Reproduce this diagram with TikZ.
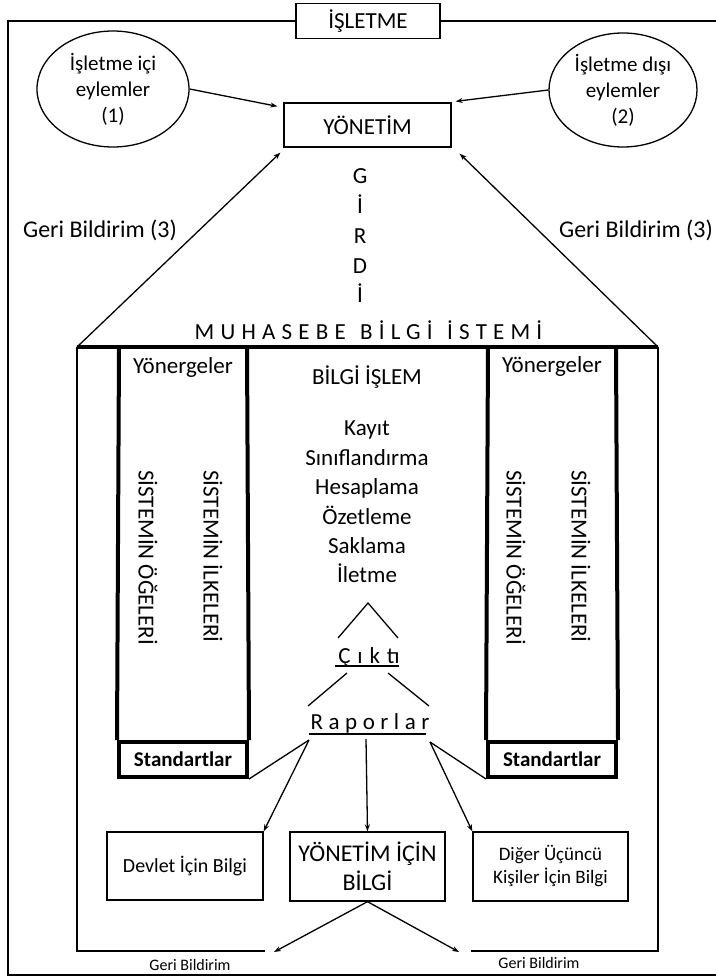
\documentclass[tikz,border=0pt]{standalone}
\usepackage{fontspec}
\setmainfont{Carlito}
\usetikzlibrary{arrows.meta,shapes.geometric}
\begin{document}
\begin{tikzpicture}[x=1pt,y=-1pt,
  thinln/.style={line width=1.3pt},
  thickln/.style={line width=4pt},
  arr/.style={line width=1.3pt,-{Stealth[length=7pt,width=5pt]}},
  fbig/.style={font=\fontsize{23}{28}\selectfont},
  tx/.style={inner sep=0pt,align=center,fbig},
  box/.style={draw,line width=1.3pt,inner sep=0pt,align=center}]
\useasboundingbox (0,0) rectangle (715,979);

% outer frame
\node[box,tx,minimum width=144pt,minimum height=35pt] (isl) at (368,21) {İŞLETME};
\draw[thinln] (isl.west) -- (8,21) -- (8,975) -- (716,975);
\draw[thinln] (isl.east) -- (716,21);

% ellipses
\node[draw,thinln,ellipse,minimum width=152pt,minimum height=116pt,inner sep=0pt,align=center,
  font=\fontsize{21}{26}\selectfont] (e1) at (113,89) {İşletme içi\\eylemler\\(1)};
\node[draw,thinln,ellipse,minimum width=148pt,minimum height=114pt,inner sep=0pt,align=center,
  font=\fontsize{21}{26}\selectfont] (e2) at (623,90) {İşletme dışı\\eylemler\\(2)};

% YONETIM
\node[box,tx,minimum width=167pt,minimum height=44pt] (yon) at (367.5,125) {YÖNETİM};
\draw[arr] (e1.east) -- ([xshift=-6pt,yshift=-4pt]yon.north west);
\draw[arr] (e2.west) -- ([xshift=4pt,yshift=1pt]yon.north east);

% corners of system
\coordinate (cl) at (77,347);
\coordinate (cr) at (658,347);
\draw[arr] (cl) -- ([xshift=-3pt,yshift=-5pt]yon.south west);
\draw[arr] (cr) -- ([xshift=8pt,yshift=-6pt]yon.south east);

\node[tx,font=\fontsize{24}{28}\selectfont] (gb1) at (100,230) {Geri Bildirim (3)};
\node[tx,font=\fontsize{24}{28}\selectfont] (gb2) at (636,230) {Geri Bildirim (3)};

\node[tx,font=\fontsize{23}{29.75}\selectfont] (girdi) at (360,236) {G\\İ\\R\\D\\İ};

\node[tx] (mbs) at (368.5,330) {\addfontfeatures{LetterSpace=27}MUHASEBE\hspace{3pt} BİLGİ\hspace{3pt} İSTEMİ};

% system frame
\draw[thickln] (cl) -- (cr);
\draw[thinln] (cl) -- (77,951) -- (265,951);
\draw[thinln] (cr) -- (658,951) -- (471,951);

% pillars
\node[draw,thickln,minimum width=128pt,minimum height=35pt,inner sep=0pt,
  font=\fontsize{21}{25}\selectfont\bfseries] (std1) at (183,759.5) {Standartlar};
\node[draw,thickln,minimum width=128pt,minimum height=35pt,inner sep=0pt,
  font=\fontsize{21}{25}\selectfont\bfseries] (std2) at (552,759.5) {Standartlar};
\draw[thickln] (std1.north west) -- (119,347);
\draw[thickln] (std1.north east) -- (247,347);
\draw[thickln] (std2.north west) -- (488,347);
\draw[thickln] (std2.north east) -- (616,347);

\node[tx] (yn1) at (183,367) {Yönergeler};
\node[tx] (yn2) at (552,366) {Yönergeler};
\node[tx,rotate=-90,anchor=west] (so1) at (148,470) {SİSTEMİN ÖĞELERİ};
\node[tx,rotate=-90,anchor=west] (si1) at (213,470) {SİSTEMİN İLKELERİ};
\node[tx,rotate=-90,anchor=west] (so2) at (516,470) {SİSTEMİN ÖĞELERİ};
\node[tx,rotate=-90,anchor=west] (si2) at (581,470) {SİSTEMİN İLKELERİ};

% center column
\node[tx] (bi) at (367,377) {BİLGİ İŞLEM};
\node[tx,font=\fontsize{23}{29.4}\selectfont] (list) at (367,502) {Kayıt\\Sınıflandırma\\Hesaplama\\Özetleme\\Saklama\\İletme};

\coordinate (ta) at (368,603);
\coordinate (tl) at (338,638);
\coordinate (tr) at (398,638);
\draw[thinln] (tl) -- (ta) -- (tr);

\node[tx] (cik) at (369,657) {\addfontfeatures{LetterSpace=30}Çıktı};
\draw[thinln] (335,666) -- (399,666);
\draw[thinln] (347,673) -- (308,706);
\draw[thinln] (388,673) -- (429,706);

\node[tx] (rap) at (370,723) {\addfontfeatures{LetterSpace=24}Raporlar};
\draw[thinln] (309,734) -- (426,734);

\coordinate (rl) at (309,740);
\coordinate (rc) at (366,739);
\coordinate (rr) at (430,742);

% output boxes
\node[box,minimum width=156pt,minimum height=68pt,font=\fontsize{20}{24}\selectfont] (dev) at (185,866) {Devlet İçin Bilgi};
\node[box,minimum width=155pt,minimum height=69pt,font=\fontsize{24}{29}\selectfont] (ybil) at (367.5,866.5) {YÖNETİM İÇİN\\BİLGİ};
\node[box,minimum width=155pt,minimum height=69pt,font=\fontsize{19}{23}\selectfont] (dig) at (550.5,866.5) {Diğer Üçüncü\\Kişiler İçin Bilgi};

\draw[thinln] (rl) -- (std1.south east);
\draw[thinln] (rr) -- (std2.south west);
\draw[arr] (rl) -- (dev.north east);
\draw[arr] (rc) -- (ybil.north);
\draw[arr] (rr) -- (dig.north west);

\coordinate (gl) at (274,952);
\coordinate (gr) at (459,952);
\draw[arr] (ybil.south) -- (gl);
\draw[arr] (ybil.south) -- (gr);

\node[inner sep=0pt,font=\fontsize{16}{19}\selectfont] (gb3) at (190,965) {Geri Bildirim};
\node[inner sep=0pt,font=\fontsize{16}{19}\selectfont] (gb4) at (539,963) {Geri Bildirim};
\end{tikzpicture}
\end{document}
